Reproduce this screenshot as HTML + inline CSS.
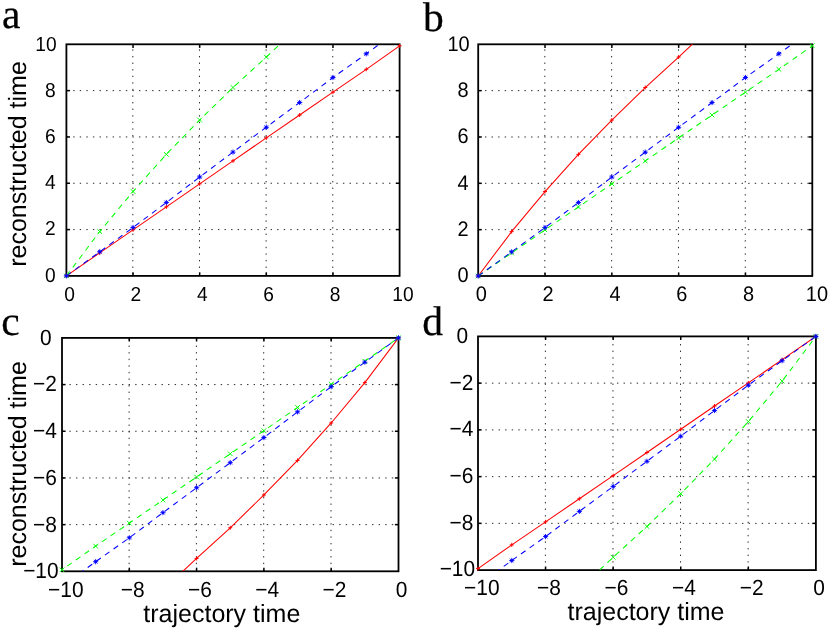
<!DOCTYPE html>
<html><head><meta charset="utf-8"><title>figure</title>
<style>html,body{margin:0;padding:0;background:#fff;}body{width:832px;height:631px;position:relative;overflow:hidden;font-family:"Liberation Sans",sans-serif;}</style></head>
<body>
<svg width="832" height="631" viewBox="0 0 832 631" style="position:absolute;left:0;top:0;will-change:transform;font-family:'Liberation Sans',sans-serif;text-rendering:geometricPrecision">
<rect width="832" height="631" fill="#fff"/>
<defs>
<clipPath id="cpa"><rect x="62.9" y="40.8" width="340.2" height="238.6"/></clipPath>
<clipPath id="cla"><rect x="66.4" y="44.3" width="333.2" height="231.6"/></clipPath>
<clipPath id="cpb"><rect x="474.7" y="40.8" width="341.1" height="238.7"/></clipPath>
<clipPath id="clb"><rect x="478.2" y="44.3" width="334.1" height="231.7"/></clipPath>
<clipPath id="cpc"><rect x="58.5" y="334.4" width="343.5" height="240.4"/></clipPath>
<clipPath id="clc"><rect x="62" y="337.9" width="336.5" height="233.4"/></clipPath>
<clipPath id="cpd"><rect x="474.5" y="332.9" width="344.9" height="240.7"/></clipPath>
<clipPath id="cld"><rect x="478" y="336.4" width="337.9" height="233.7"/></clipPath>
</defs>
<g id="plot-a">
<g stroke="#2a2a2a" stroke-width="1" stroke-dasharray="1.4 5.18" clip-path="url(#cla)">
<line x1="132.84" y1="42.8" x2="132.84" y2="275.9"/>
<line x1="66.6" y1="229.58" x2="399.6" y2="229.58"/>
<line x1="199.48" y1="42.8" x2="199.48" y2="275.9"/>
<line x1="66.6" y1="183.26" x2="399.6" y2="183.26"/>
<line x1="266.12" y1="42.8" x2="266.12" y2="275.9"/>
<line x1="66.6" y1="136.94" x2="399.6" y2="136.94"/>
<line x1="332.76" y1="42.8" x2="332.76" y2="275.9"/>
<line x1="66.6" y1="90.62" x2="399.6" y2="90.62"/>
</g>
<g stroke="#000" stroke-width="1.5">
<line x1="133.04" y1="275.9" x2="133.04" y2="272.3"/>
<line x1="133.04" y1="44.3" x2="133.04" y2="47.9"/>
<line x1="66.4" y1="229.58" x2="70" y2="229.58"/>
<line x1="399.6" y1="229.58" x2="396" y2="229.58"/>
<line x1="199.68" y1="275.9" x2="199.68" y2="272.3"/>
<line x1="199.68" y1="44.3" x2="199.68" y2="47.9"/>
<line x1="66.4" y1="183.26" x2="70" y2="183.26"/>
<line x1="399.6" y1="183.26" x2="396" y2="183.26"/>
<line x1="266.32" y1="275.9" x2="266.32" y2="272.3"/>
<line x1="266.32" y1="44.3" x2="266.32" y2="47.9"/>
<line x1="66.4" y1="136.94" x2="70" y2="136.94"/>
<line x1="399.6" y1="136.94" x2="396" y2="136.94"/>
<line x1="332.96" y1="275.9" x2="332.96" y2="272.3"/>
<line x1="332.96" y1="44.3" x2="332.96" y2="47.9"/>
<line x1="66.4" y1="90.62" x2="70" y2="90.62"/>
<line x1="399.6" y1="90.62" x2="396" y2="90.62"/>
</g>
<rect x="66.4" y="44.3" width="333.2" height="231.6" fill="none" stroke="#000" stroke-width="1.8"/>
<g clip-path="url(#cla)" fill="none" stroke-width="1.05">
<polyline points="66.4,275.9 99.72,252.86 133.04,229.81 166.36,206.88 199.68,183.84 233,160.89 266.32,137.87 299.64,115.01 332.96,92.13 366.28,69.31 399.6,45.81" stroke="#ff0000"/>
<polyline points="66.4,275.9 99.72,231.55 133.04,191.48 166.36,154.31 199.68,120.03 233,87.49 266.32,57.04 299.64,25.77" stroke="#00ff00" stroke-dasharray="5.6 5"/>
<polyline points="66.4,275.9 99.72,251.81 133.04,227.5 166.36,202.48 199.68,177.01 233,152.11 266.32,127.21 299.64,102.5 332.96,77.51 366.28,53.8 399.6,29.48" stroke="#0000ff" stroke-dasharray="5.6 5"/>
</g>
<g clip-path="url(#cpa)" fill="none">
<path d="M64.1 273.6L68.7 278.2M64.1 278.2L68.7 273.6M97.42 229.25L102.02 233.85M97.42 233.85L102.02 229.25M130.74 189.18L135.34 193.78M130.74 193.78L135.34 189.18M164.06 152.01L168.66 156.61M164.06 156.61L168.66 152.01M197.38 117.73L201.98 122.33M197.38 122.33L201.98 117.73M230.7 85.19L235.3 89.79M230.7 89.79L235.3 85.19M264.02 54.74L268.62 59.34M264.02 59.34L268.62 54.74" stroke="#00ff00" stroke-width="1"/>
<path d="M64.4 275.9L68.4 275.9M66.4 273.9L66.4 277.9M97.72 252.86L101.72 252.86M99.72 250.86L99.72 254.86M131.04 229.81L135.04 229.81M133.04 227.81L133.04 231.81M164.36 206.88L168.36 206.88M166.36 204.88L166.36 208.88M197.68 183.84L201.68 183.84M199.68 181.84L199.68 185.84M231 160.89L235 160.89M233 158.89L233 162.89M264.32 137.87L268.32 137.87M266.32 135.87L266.32 139.87M297.64 115.01L301.64 115.01M299.64 113.01L299.64 117.01M330.96 92.13L334.96 92.13M332.96 90.13L332.96 94.13M364.28 69.31L368.28 69.31M366.28 67.31L366.28 71.31M397.6 45.81L401.6 45.81M399.6 43.81L399.6 47.81" stroke="#ff0000" stroke-width="1"/>
<path d="M63.8 275.9L69 275.9M66.4 273.3L66.4 278.5M64.55 274.05L68.25 277.75M64.55 277.75L68.25 274.05M97.12 251.81L102.32 251.81M99.72 249.21L99.72 254.41M97.87 249.96L101.57 253.66M97.87 253.66L101.57 249.96M130.44 227.5L135.64 227.5M133.04 224.9L133.04 230.1M131.19 225.65L134.89 229.35M131.19 229.35L134.89 225.65M163.76 202.48L168.96 202.48M166.36 199.88L166.36 205.08M164.51 200.63L168.21 204.33M164.51 204.33L168.21 200.63M197.08 177.01L202.28 177.01M199.68 174.41L199.68 179.61M197.83 175.16L201.53 178.86M197.83 178.86L201.53 175.16M230.4 152.11L235.6 152.11M233 149.51L233 154.71M231.15 150.26L234.85 153.96M231.15 153.96L234.85 150.26M263.72 127.21L268.92 127.21M266.32 124.61L266.32 129.81M264.47 125.36L268.17 129.06M264.47 129.06L268.17 125.36M297.04 102.5L302.24 102.5M299.64 99.9L299.64 105.1M297.79 100.65L301.49 104.35M297.79 104.35L301.49 100.65M330.36 77.51L335.56 77.51M332.96 74.91L332.96 80.11M331.11 75.66L334.81 79.36M331.11 79.36L334.81 75.66M363.68 53.8L368.88 53.8M366.28 51.2L366.28 56.4M364.43 51.95L368.13 55.65M364.43 55.65L368.13 51.95" stroke="#0000ff" stroke-width="0.9"/>
<circle cx="66.4" cy="275.9" r="1.25" fill="#0000ff"/>
<circle cx="99.72" cy="251.81" r="1.25" fill="#0000ff"/>
<circle cx="133.04" cy="227.5" r="1.25" fill="#0000ff"/>
<circle cx="166.36" cy="202.48" r="1.25" fill="#0000ff"/>
<circle cx="199.68" cy="177.01" r="1.25" fill="#0000ff"/>
<circle cx="233" cy="152.11" r="1.25" fill="#0000ff"/>
<circle cx="266.32" cy="127.21" r="1.25" fill="#0000ff"/>
<circle cx="299.64" cy="102.5" r="1.25" fill="#0000ff"/>
<circle cx="332.96" cy="77.51" r="1.25" fill="#0000ff"/>
<circle cx="366.28" cy="53.8" r="1.25" fill="#0000ff"/>
</g>
<g font-size="20.2" text-anchor="middle" transform="scale(0.95 1)">
<text x="73.16" y="300.8">0</text>
<text x="143.03" y="300.8">2</text>
<text x="212.91" y="300.8">4</text>
<text x="282.78" y="300.8">6</text>
<text x="352.65" y="300.8">8</text>
<text x="424.11" y="300.8">10</text>
</g>
<g font-size="20.2" text-anchor="end" transform="scale(0.95 1)">
<text x="58.63" y="281.55">0</text>
<text x="58.63" y="235.43">2</text>
<text x="58.63" y="189.31">4</text>
<text x="58.63" y="143.19">6</text>
<text x="58.63" y="97.07">8</text>
<text x="59.68" y="50.95">10</text>
</g>
</g>
<g id="plot-b">
<g stroke="#2a2a2a" stroke-width="1" stroke-dasharray="1.4 5.18" clip-path="url(#clb)">
<line x1="544.82" y1="42.8" x2="544.82" y2="276"/>
<line x1="478.4" y1="229.66" x2="812.3" y2="229.66"/>
<line x1="611.64" y1="42.8" x2="611.64" y2="276"/>
<line x1="478.4" y1="183.32" x2="812.3" y2="183.32"/>
<line x1="678.46" y1="42.8" x2="678.46" y2="276"/>
<line x1="478.4" y1="136.98" x2="812.3" y2="136.98"/>
<line x1="745.28" y1="42.8" x2="745.28" y2="276"/>
<line x1="478.4" y1="90.64" x2="812.3" y2="90.64"/>
</g>
<g stroke="#000" stroke-width="1.5">
<line x1="545.02" y1="276" x2="545.02" y2="272.4"/>
<line x1="545.02" y1="44.3" x2="545.02" y2="47.9"/>
<line x1="478.2" y1="229.66" x2="481.8" y2="229.66"/>
<line x1="812.3" y1="229.66" x2="808.7" y2="229.66"/>
<line x1="611.84" y1="276" x2="611.84" y2="272.4"/>
<line x1="611.84" y1="44.3" x2="611.84" y2="47.9"/>
<line x1="478.2" y1="183.32" x2="481.8" y2="183.32"/>
<line x1="812.3" y1="183.32" x2="808.7" y2="183.32"/>
<line x1="678.66" y1="276" x2="678.66" y2="272.4"/>
<line x1="678.66" y1="44.3" x2="678.66" y2="47.9"/>
<line x1="478.2" y1="136.98" x2="481.8" y2="136.98"/>
<line x1="812.3" y1="136.98" x2="808.7" y2="136.98"/>
<line x1="745.48" y1="276" x2="745.48" y2="272.4"/>
<line x1="745.48" y1="44.3" x2="745.48" y2="47.9"/>
<line x1="478.2" y1="90.64" x2="481.8" y2="90.64"/>
<line x1="812.3" y1="90.64" x2="808.7" y2="90.64"/>
</g>
<rect x="478.2" y="44.3" width="334.1" height="231.7" fill="none" stroke="#000" stroke-width="1.8"/>
<g clip-path="url(#clb)" fill="none" stroke-width="1.05">
<polyline points="478.2,276 511.61,231.63 545.02,191.55 578.43,154.36 611.84,120.07 645.25,87.51 678.66,57.04 712.07,25.76" stroke="#ff0000"/>
<polyline points="478.2,276 511.61,252.95 545.02,229.89 578.43,206.95 611.84,183.9 645.25,160.94 678.66,137.91 712.07,115.04 745.48,92.15 778.89,69.32 812.3,45.81" stroke="#00ff00" stroke-dasharray="5.6 5"/>
<polyline points="478.2,276 511.61,251.9 545.02,227.57 578.43,202.55 611.84,177.06 645.25,152.16 678.66,127.25 712.07,102.53 745.48,77.53 778.89,53.8 812.3,29.47" stroke="#0000ff" stroke-dasharray="5.6 5"/>
</g>
<g clip-path="url(#cpb)" fill="none">
<path d="M475.9 273.7L480.5 278.3M475.9 278.3L480.5 273.7M509.31 250.65L513.91 255.25M509.31 255.25L513.91 250.65M542.72 227.59L547.32 232.19M542.72 232.19L547.32 227.59M576.13 204.65L580.73 209.25M576.13 209.25L580.73 204.65M609.54 181.6L614.14 186.2M609.54 186.2L614.14 181.6M642.95 158.64L647.55 163.24M642.95 163.24L647.55 158.64M676.36 135.61L680.96 140.21M676.36 140.21L680.96 135.61M709.77 112.74L714.37 117.34M709.77 117.34L714.37 112.74M743.18 89.85L747.78 94.45M743.18 94.45L747.78 89.85M776.59 67.02L781.19 71.62M776.59 71.62L781.19 67.02M810 43.51L814.6 48.11M810 48.11L814.6 43.51" stroke="#00ff00" stroke-width="1"/>
<path d="M476.2 276L480.2 276M478.2 274L478.2 278M509.61 231.63L513.61 231.63M511.61 229.63L511.61 233.63M543.02 191.55L547.02 191.55M545.02 189.55L545.02 193.55M576.43 154.36L580.43 154.36M578.43 152.36L578.43 156.36M609.84 120.07L613.84 120.07M611.84 118.07L611.84 122.07M643.25 87.51L647.25 87.51M645.25 85.51L645.25 89.51M676.66 57.04L680.66 57.04M678.66 55.04L678.66 59.04" stroke="#ff0000" stroke-width="1"/>
<path d="M475.6 276L480.8 276M478.2 273.4L478.2 278.6M476.35 274.15L480.05 277.85M476.35 277.85L480.05 274.15M509.01 251.9L514.21 251.9M511.61 249.3L511.61 254.5M509.76 250.05L513.46 253.75M509.76 253.75L513.46 250.05M542.42 227.57L547.62 227.57M545.02 224.97L545.02 230.17M543.17 225.72L546.87 229.42M543.17 229.42L546.87 225.72M575.83 202.55L581.03 202.55M578.43 199.95L578.43 205.15M576.58 200.7L580.28 204.4M576.58 204.4L580.28 200.7M609.24 177.06L614.44 177.06M611.84 174.46L611.84 179.66M609.99 175.21L613.69 178.91M609.99 178.91L613.69 175.21M642.65 152.16L647.85 152.16M645.25 149.56L645.25 154.76M643.4 150.31L647.1 154.01M643.4 154.01L647.1 150.31M676.06 127.25L681.26 127.25M678.66 124.65L678.66 129.85M676.81 125.4L680.51 129.1M676.81 129.1L680.51 125.4M709.47 102.53L714.67 102.53M712.07 99.93L712.07 105.13M710.22 100.68L713.92 104.38M710.22 104.38L713.92 100.68M742.88 77.53L748.08 77.53M745.48 74.93L745.48 80.13M743.63 75.68L747.33 79.38M743.63 79.38L747.33 75.68M776.29 53.8L781.49 53.8M778.89 51.2L778.89 56.4M777.04 51.95L780.74 55.65M777.04 55.65L780.74 51.95" stroke="#0000ff" stroke-width="0.9"/>
<circle cx="478.2" cy="276" r="1.25" fill="#0000ff"/>
<circle cx="511.61" cy="251.9" r="1.25" fill="#0000ff"/>
<circle cx="545.02" cy="227.57" r="1.25" fill="#0000ff"/>
<circle cx="578.43" cy="202.55" r="1.25" fill="#0000ff"/>
<circle cx="611.84" cy="177.06" r="1.25" fill="#0000ff"/>
<circle cx="645.25" cy="152.16" r="1.25" fill="#0000ff"/>
<circle cx="678.66" cy="127.25" r="1.25" fill="#0000ff"/>
<circle cx="712.07" cy="102.53" r="1.25" fill="#0000ff"/>
<circle cx="745.48" cy="77.53" r="1.25" fill="#0000ff"/>
<circle cx="778.89" cy="53.8" r="1.25" fill="#0000ff"/>
</g>
<g font-size="21.0" text-anchor="middle" transform="scale(0.95 1)">
<text x="506.63" y="301.35">0</text>
<text x="576.97" y="301.35">2</text>
<text x="647.31" y="301.35">4</text>
<text x="717.64" y="301.35">6</text>
<text x="787.98" y="301.35">8</text>
<text x="859.89" y="301.35">10</text>
</g>
<g font-size="21.0" text-anchor="end" transform="scale(0.95 1)">
<text x="493.37" y="281.92">0</text>
<text x="493.37" y="235.72">2</text>
<text x="493.37" y="189.52">4</text>
<text x="493.37" y="143.32">6</text>
<text x="493.37" y="97.12">8</text>
<text x="494.42" y="50.92">10</text>
</g>
</g>
<g id="plot-c">
<g stroke="#2a2a2a" stroke-width="1" stroke-dasharray="1.4 5.18" clip-path="url(#clc)">
<line x1="331" y1="332.4" x2="331" y2="571.3"/>
<line x1="62.8" y1="384.58" x2="398.5" y2="384.58"/>
<line x1="263.7" y1="332.4" x2="263.7" y2="571.3"/>
<line x1="62.8" y1="431.26" x2="398.5" y2="431.26"/>
<line x1="196.4" y1="332.4" x2="196.4" y2="571.3"/>
<line x1="62.8" y1="477.94" x2="398.5" y2="477.94"/>
<line x1="129.1" y1="332.4" x2="129.1" y2="571.3"/>
<line x1="62.8" y1="524.62" x2="398.5" y2="524.62"/>
</g>
<g stroke="#000" stroke-width="1.5">
<line x1="331.2" y1="571.3" x2="331.2" y2="567.7"/>
<line x1="331.2" y1="337.9" x2="331.2" y2="341.5"/>
<line x1="62" y1="384.58" x2="65.6" y2="384.58"/>
<line x1="398.5" y1="384.58" x2="394.9" y2="384.58"/>
<line x1="263.9" y1="571.3" x2="263.9" y2="567.7"/>
<line x1="263.9" y1="337.9" x2="263.9" y2="341.5"/>
<line x1="62" y1="431.26" x2="65.6" y2="431.26"/>
<line x1="398.5" y1="431.26" x2="394.9" y2="431.26"/>
<line x1="196.6" y1="571.3" x2="196.6" y2="567.7"/>
<line x1="196.6" y1="337.9" x2="196.6" y2="341.5"/>
<line x1="62" y1="477.94" x2="65.6" y2="477.94"/>
<line x1="398.5" y1="477.94" x2="394.9" y2="477.94"/>
<line x1="129.3" y1="571.3" x2="129.3" y2="567.7"/>
<line x1="129.3" y1="337.9" x2="129.3" y2="341.5"/>
<line x1="62" y1="524.62" x2="65.6" y2="524.62"/>
<line x1="398.5" y1="524.62" x2="394.9" y2="524.62"/>
</g>
<rect x="62" y="337.9" width="336.5" height="233.4" fill="none" stroke="#000" stroke-width="1.8"/>
<g clip-path="url(#clc)" fill="none" stroke-width="1.05">
<polyline points="162.95,589.97 196.6,558.46 230.25,527.77 263.9,494.98 297.55,460.43 331.2,422.97 364.85,382.6 398.5,337.9" stroke="#ff0000"/>
<polyline points="62,569.78 95.65,546.09 129.3,523.1 162.95,500.04 196.6,477.01 230.25,453.81 263.9,430.68 297.55,407.45 331.2,384.35 364.85,361.12 398.5,337.9" stroke="#00ff00" stroke-dasharray="5.6 5" stroke-dashoffset="4.27"/>
<polyline points="62,586.24 95.65,561.73 129.3,537.83 162.95,512.65 196.6,487.74 230.25,462.65 263.9,437.56 297.55,411.89 331.2,386.68 364.85,362.17 398.5,337.9" stroke="#0000ff" stroke-dasharray="5.6 5"/>
</g>
<g clip-path="url(#cpc)" fill="none">
<path d="M59.7 567.48L64.3 572.08M59.7 572.08L64.3 567.48M93.35 543.79L97.95 548.39M93.35 548.39L97.95 543.79M127 520.8L131.6 525.4M127 525.4L131.6 520.8M160.65 497.74L165.25 502.34M160.65 502.34L165.25 497.74M194.3 474.71L198.9 479.31M194.3 479.31L198.9 474.71M227.95 451.51L232.55 456.11M227.95 456.11L232.55 451.51M261.6 428.38L266.2 432.98M261.6 432.98L266.2 428.38M295.25 405.15L299.85 409.75M295.25 409.75L299.85 405.15M328.9 382.05L333.5 386.65M328.9 386.65L333.5 382.05M362.55 358.82L367.15 363.42M362.55 363.42L367.15 358.82M396.2 335.6L400.8 340.2M396.2 340.2L400.8 335.6" stroke="#00ff00" stroke-width="1"/>
<path d="M194.6 558.46L198.6 558.46M196.6 556.46L196.6 560.46M228.25 527.77L232.25 527.77M230.25 525.77L230.25 529.77M261.9 494.98L265.9 494.98M263.9 492.98L263.9 496.98M295.55 460.43L299.55 460.43M297.55 458.43L297.55 462.43M329.2 422.97L333.2 422.97M331.2 420.97L331.2 424.97M362.85 382.6L366.85 382.6M364.85 380.6L364.85 384.6M396.5 337.9L400.5 337.9M398.5 335.9L398.5 339.9" stroke="#ff0000" stroke-width="1"/>
<path d="M93.05 561.73L98.25 561.73M95.65 559.13L95.65 564.33M93.8 559.88L97.5 563.58M93.8 563.58L97.5 559.88M126.7 537.83L131.9 537.83M129.3 535.23L129.3 540.43M127.45 535.98L131.15 539.68M127.45 539.68L131.15 535.98M160.35 512.65L165.55 512.65M162.95 510.05L162.95 515.25M161.1 510.8L164.8 514.5M161.1 514.5L164.8 510.8M194 487.74L199.2 487.74M196.6 485.14L196.6 490.34M194.75 485.89L198.45 489.59M194.75 489.59L198.45 485.89M227.65 462.65L232.85 462.65M230.25 460.05L230.25 465.25M228.4 460.8L232.1 464.5M228.4 464.5L232.1 460.8M261.3 437.56L266.5 437.56M263.9 434.96L263.9 440.16M262.05 435.71L265.75 439.41M262.05 439.41L265.75 435.71M294.95 411.89L300.15 411.89M297.55 409.29L297.55 414.49M295.7 410.04L299.4 413.74M295.7 413.74L299.4 410.04M328.6 386.68L333.8 386.68M331.2 384.08L331.2 389.28M329.35 384.83L333.05 388.53M329.35 388.53L333.05 384.83M362.25 362.17L367.45 362.17M364.85 359.57L364.85 364.77M363 360.32L366.7 364.02M363 364.02L366.7 360.32M395.9 337.9L401.1 337.9M398.5 335.3L398.5 340.5M396.65 336.05L400.35 339.75M396.65 339.75L400.35 336.05" stroke="#0000ff" stroke-width="0.9"/>
<circle cx="95.65" cy="561.73" r="1.25" fill="#0000ff"/>
<circle cx="129.3" cy="537.83" r="1.25" fill="#0000ff"/>
<circle cx="162.95" cy="512.65" r="1.25" fill="#0000ff"/>
<circle cx="196.6" cy="487.74" r="1.25" fill="#0000ff"/>
<circle cx="230.25" cy="462.65" r="1.25" fill="#0000ff"/>
<circle cx="263.9" cy="437.56" r="1.25" fill="#0000ff"/>
<circle cx="297.55" cy="411.89" r="1.25" fill="#0000ff"/>
<circle cx="331.2" cy="386.68" r="1.25" fill="#0000ff"/>
<circle cx="364.85" cy="362.17" r="1.25" fill="#0000ff"/>
<circle cx="398.5" cy="337.9" r="1.25" fill="#0000ff"/>
</g>
<g font-size="22.0" text-anchor="middle" transform="scale(0.95 1)">
<text x="422.74" y="597.04">0</text>
<text x="352.11" y="597.04">−2</text>
<text x="281.26" y="597.04">−4</text>
<text x="210.42" y="597.04">−6</text>
<text x="139.58" y="597.04">−8</text>
<text x="69.26" y="597.04">−10</text>
</g>
<g font-size="22.0" text-anchor="end" transform="scale(0.95 1)">
<text x="54.32" y="344.67">0</text>
<text x="59.89" y="391.41">−2</text>
<text x="59.89" y="438.15">−4</text>
<text x="59.89" y="484.89">−6</text>
<text x="59.89" y="531.63">−8</text>
<text x="61.68" y="578.37">−10</text>
</g>
</g>
<g id="plot-d">
<g stroke="#2a2a2a" stroke-width="1" stroke-dasharray="1.4 5.18" clip-path="url(#cld)">
<line x1="748.12" y1="330.9" x2="748.12" y2="570.1"/>
<line x1="478.8" y1="383.14" x2="815.9" y2="383.14"/>
<line x1="680.54" y1="330.9" x2="680.54" y2="570.1"/>
<line x1="478.8" y1="429.88" x2="815.9" y2="429.88"/>
<line x1="612.96" y1="330.9" x2="612.96" y2="570.1"/>
<line x1="478.8" y1="476.62" x2="815.9" y2="476.62"/>
<line x1="545.38" y1="330.9" x2="545.38" y2="570.1"/>
<line x1="478.8" y1="523.36" x2="815.9" y2="523.36"/>
</g>
<g stroke="#000" stroke-width="1.5">
<line x1="748.32" y1="570.1" x2="748.32" y2="566.5"/>
<line x1="748.32" y1="336.4" x2="748.32" y2="340"/>
<line x1="478" y1="383.14" x2="481.6" y2="383.14"/>
<line x1="815.9" y1="383.14" x2="812.3" y2="383.14"/>
<line x1="680.74" y1="570.1" x2="680.74" y2="566.5"/>
<line x1="680.74" y1="336.4" x2="680.74" y2="340"/>
<line x1="478" y1="429.88" x2="481.6" y2="429.88"/>
<line x1="815.9" y1="429.88" x2="812.3" y2="429.88"/>
<line x1="613.16" y1="570.1" x2="613.16" y2="566.5"/>
<line x1="613.16" y1="336.4" x2="613.16" y2="340"/>
<line x1="478" y1="476.62" x2="481.6" y2="476.62"/>
<line x1="815.9" y1="476.62" x2="812.3" y2="476.62"/>
<line x1="545.58" y1="570.1" x2="545.58" y2="566.5"/>
<line x1="545.58" y1="336.4" x2="545.58" y2="340"/>
<line x1="478" y1="523.36" x2="481.6" y2="523.36"/>
<line x1="815.9" y1="523.36" x2="812.3" y2="523.36"/>
</g>
<rect x="478" y="336.4" width="337.9" height="233.7" fill="none" stroke="#000" stroke-width="1.8"/>
<g clip-path="url(#cld)" fill="none" stroke-width="1.05">
<polyline points="478,568.58 511.79,544.86 545.58,521.84 579.37,498.75 613.16,475.69 646.95,452.46 680.74,429.3 714.53,406.04 748.32,382.91 782.11,359.65 815.9,336.4" stroke="#ff0000"/>
<polyline points="579.37,588.8 613.16,557.25 646.95,526.51 680.74,493.68 714.53,459.09 748.32,421.58 782.11,381.15 815.9,336.4" stroke="#00ff00" stroke-dasharray="5.6 5" stroke-dashoffset="4.02"/>
<polyline points="478,585.06 511.79,560.52 545.58,536.59 579.37,511.37 613.16,486.44 646.95,461.31 680.74,436.19 714.53,410.48 748.32,385.24 782.11,360.7 815.9,336.4" stroke="#0000ff" stroke-dasharray="5.6 5"/>
</g>
<g clip-path="url(#cpd)" fill="none">
<path d="M610.86 554.95L615.46 559.55M610.86 559.55L615.46 554.95M644.65 524.21L649.25 528.81M644.65 528.81L649.25 524.21M678.44 491.38L683.04 495.98M678.44 495.98L683.04 491.38M712.23 456.79L716.83 461.39M712.23 461.39L716.83 456.79M746.02 419.28L750.62 423.88M746.02 423.88L750.62 419.28M779.81 378.85L784.41 383.45M779.81 383.45L784.41 378.85M813.6 334.1L818.2 338.7M813.6 338.7L818.2 334.1" stroke="#00ff00" stroke-width="1"/>
<path d="M476 568.58L480 568.58M478 566.58L478 570.58M509.79 544.86L513.79 544.86M511.79 542.86L511.79 546.86M543.58 521.84L547.58 521.84M545.58 519.84L545.58 523.84M577.37 498.75L581.37 498.75M579.37 496.75L579.37 500.75M611.16 475.69L615.16 475.69M613.16 473.69L613.16 477.69M644.95 452.46L648.95 452.46M646.95 450.46L646.95 454.46M678.74 429.3L682.74 429.3M680.74 427.3L680.74 431.3M712.53 406.04L716.53 406.04M714.53 404.04L714.53 408.04M746.32 382.91L750.32 382.91M748.32 380.91L748.32 384.91M780.11 359.65L784.11 359.65M782.11 357.65L782.11 361.65M813.9 336.4L817.9 336.4M815.9 334.4L815.9 338.4" stroke="#ff0000" stroke-width="1"/>
<path d="M509.19 560.52L514.39 560.52M511.79 557.92L511.79 563.12M509.94 558.67L513.64 562.37M509.94 562.37L513.64 558.67M542.98 536.59L548.18 536.59M545.58 533.99L545.58 539.19M543.73 534.74L547.43 538.44M543.73 538.44L547.43 534.74M576.77 511.37L581.97 511.37M579.37 508.77L579.37 513.97M577.52 509.52L581.22 513.22M577.52 513.22L581.22 509.52M610.56 486.44L615.76 486.44M613.16 483.84L613.16 489.04M611.31 484.59L615.01 488.29M611.31 488.29L615.01 484.59M644.35 461.31L649.55 461.31M646.95 458.71L646.95 463.91M645.1 459.46L648.8 463.16M645.1 463.16L648.8 459.46M678.14 436.19L683.34 436.19M680.74 433.59L680.74 438.79M678.89 434.34L682.59 438.04M678.89 438.04L682.59 434.34M711.93 410.48L717.13 410.48M714.53 407.88L714.53 413.08M712.68 408.63L716.38 412.33M712.68 412.33L716.38 408.63M745.72 385.24L750.92 385.24M748.32 382.64L748.32 387.84M746.47 383.39L750.17 387.09M746.47 387.09L750.17 383.39M779.51 360.7L784.71 360.7M782.11 358.1L782.11 363.3M780.26 358.85L783.96 362.55M780.26 362.55L783.96 358.85M813.3 336.4L818.5 336.4M815.9 333.8L815.9 339M814.05 334.55L817.75 338.25M814.05 338.25L817.75 334.55" stroke="#0000ff" stroke-width="0.9"/>
<circle cx="511.79" cy="560.52" r="1.25" fill="#0000ff"/>
<circle cx="545.58" cy="536.59" r="1.25" fill="#0000ff"/>
<circle cx="579.37" cy="511.37" r="1.25" fill="#0000ff"/>
<circle cx="613.16" cy="486.44" r="1.25" fill="#0000ff"/>
<circle cx="646.95" cy="461.31" r="1.25" fill="#0000ff"/>
<circle cx="680.74" cy="436.19" r="1.25" fill="#0000ff"/>
<circle cx="714.53" cy="410.48" r="1.25" fill="#0000ff"/>
<circle cx="748.32" cy="385.24" r="1.25" fill="#0000ff"/>
<circle cx="782.11" cy="360.7" r="1.25" fill="#0000ff"/>
<circle cx="815.9" cy="336.4" r="1.25" fill="#0000ff"/>
</g>
<g font-size="22.0" text-anchor="middle" transform="scale(0.95 1)">
<text x="862.11" y="595.44">0</text>
<text x="791.18" y="595.44">−2</text>
<text x="720.04" y="595.44">−4</text>
<text x="648.91" y="595.44">−6</text>
<text x="577.77" y="595.44">−8</text>
<text x="507.16" y="595.44">−10</text>
</g>
<g font-size="22.0" text-anchor="end" transform="scale(0.95 1)">
<text x="492.74" y="343.07">0</text>
<text x="498.32" y="389.71">−2</text>
<text x="498.32" y="436.35">−4</text>
<text x="498.32" y="482.99">−6</text>
<text x="498.32" y="529.63">−8</text>
<text x="500.11" y="576.27">−10</text>
</g>
</g>
<g font-family="'Liberation Serif',serif" font-size="41.5" stroke="#000" stroke-width="0.25">
<text x="2" y="27.8">a</text>
<text x="423" y="31">b</text>
<text x="1.2" y="334.5">c</text>
<text x="422.3" y="334.6">d</text>
</g>
<text transform="translate(25.5 266.8) rotate(-90)" font-size="25">reconstructed time</text>
<text transform="translate(25.5 566.8) rotate(-90)" font-size="25">reconstructed time</text>
<text x="143.3" y="622" font-size="25">trajectory time</text>
<text x="567.5" y="620" font-size="25">trajectory time</text>
</svg>
</body></html>
